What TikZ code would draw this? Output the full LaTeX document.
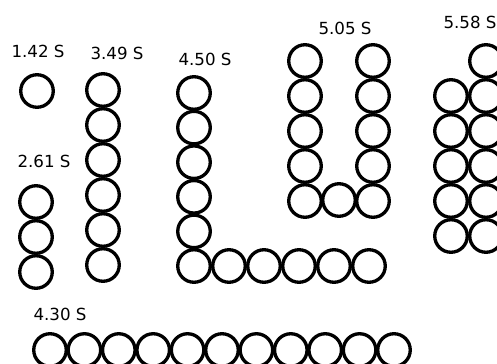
\documentclass[tikz,border=0pt]{standalone}
\usepackage{fontspec}
\setmainfont{DejaVu Sans}
\tikzset{
  ball/.style={draw,circle,line width=2.5pt,minimum size=24.4pt,inner sep=0pt},
  tag/.style={font=\fontsize{12.5}{14}\selectfont,inner sep=0pt}
}
\begin{document}
\begin{tikzpicture}[x=0.75pt,y=-0.75pt]
\useasboundingbox (0,0) rectangle (497,364);
\clip (0,0) rectangle (497,364);

% 1.42 S
\node[tag] (t142) at (38,51) {1.42 S};
\node[ball] (a1) at (37,91) {};

% 3.49 S
\node[tag] (t349) at (117,53) {3.49 S};
\foreach \k in {0,...,5}
  \node[ball] (b\k) at (103,90+35*\k) {};

% 2.61 S
\node[tag] (t261) at (44,161) {2.61 S};
\foreach \k in {0,...,2}
  \node[ball] (c\k) at (36,202+35*\k) {};

% 4.50 S
\node[tag] (t450) at (205,59) {4.50 S};
\foreach \k in {0,...,5}
  \node[ball] (d\k) at (194,93+34.6*\k) {};
\foreach \k in {1,...,5}
  \node[ball] (e\k) at (194+35*\k,266) {};

% 5.05 S
\node[tag] (t505) at (345,28) {5.05 S};
\foreach \k in {0,...,4}{
  \node[ball] (f\k) at (305,61+35*\k) {};
  \node[ball] (g\k) at (373,61+35*\k) {};
}
\node[ball] (fg) at (339,200) {};

% 5.58 S
\node[tag] (t558) at (470,22) {5.58 S};
\foreach \k in {0,...,5}
  \node[ball] (h\k) at (486,61+35*\k) {};
\foreach \k in {1,...,5}
  \node[ball] (i\k) at (451,61+35*\k) {};

% 4.30 S
\node[tag] (t430) at (60,314) {4.30 S};
\foreach \k in {0,...,10}
  \node[ball] (j\k) at (50+34.4*\k,350) {};
\end{tikzpicture}
\end{document}
